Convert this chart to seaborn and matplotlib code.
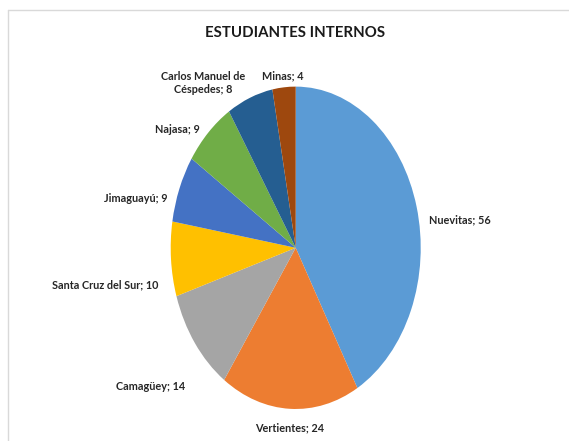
import matplotlib
matplotlib.use("Agg")
import matplotlib.pyplot as plt
from matplotlib.lines import Line2D
import seaborn as sns

municipios = ["Nuevitas", "Vertientes", "Camagüey", "Santa Cruz del Sur",
              "Jimaguayú", "Najasa", "Carlos Manuel de\nCéspedes", "Minas"]
estudiantes = [56, 24, 14, 10, 9, 9, 8, 4]
colores = ["#5B9BD5", "#ED7D31", "#A5A5A5", "#FFC000",
           "#4472C4", "#70AD47", "#255E91", "#9E480E"]

# small vertical nudges of the labels (axes data units), like Excel's placement
nudge_y = [-0.11, -0.02, -0.21, -0.15, -0.10, -0.05, 0.0, -0.03]

sns.set_theme(style="white")
plt.rcParams["font.family"] = ["Lato", "DejaVu Sans"]

fig = plt.figure(figsize=(5.69, 4.41), dpi=100)
# pie stretched to an ellipse like the original
ax = fig.add_axes([0.300, 0.0726, 0.4394, 0.731])

etiquetas = [f"{m}; {v}" for m, v in zip(municipios, estudiantes)]
wedges, textos = ax.pie(estudiantes, labels=etiquetas, colors=sns.color_palette(colores),
                        startangle=90, counterclock=False, labeldistance=1.1,
                        wedgeprops=dict(linewidth=0),
                        textprops=dict(fontsize=7.8, fontweight="bold", color="#262626",
                                       multialignment="center"))
ax.set_aspect("auto")
ax.set_xlim(-1, 1)
ax.set_ylim(-1, 1)
ax.axis("off")

for t, dy in zip(textos, nudge_y):
    x, y = t.get_position()
    if abs(x) < 0.15:
        t.set_ha("center")
    t.set_position((x, y + dy))

fig.text(0.519, 0.925, "ESTUDIANTES INTERNOS", ha="center", va="center",
         fontsize=10.8, fontweight="bold", color="#1a1a1a")

# light frame like the spreadsheet chart area
fig.add_artist(Line2D([8 / 569, 1], [1 - 10 / 441, 1 - 10 / 441], color="#d9d9d9", lw=1))
fig.add_artist(Line2D([8 / 569, 8 / 569], [0, 1 - 10 / 441], color="#d9d9d9", lw=1))

plt.savefig("out.png", dpi=100, facecolor="white")
